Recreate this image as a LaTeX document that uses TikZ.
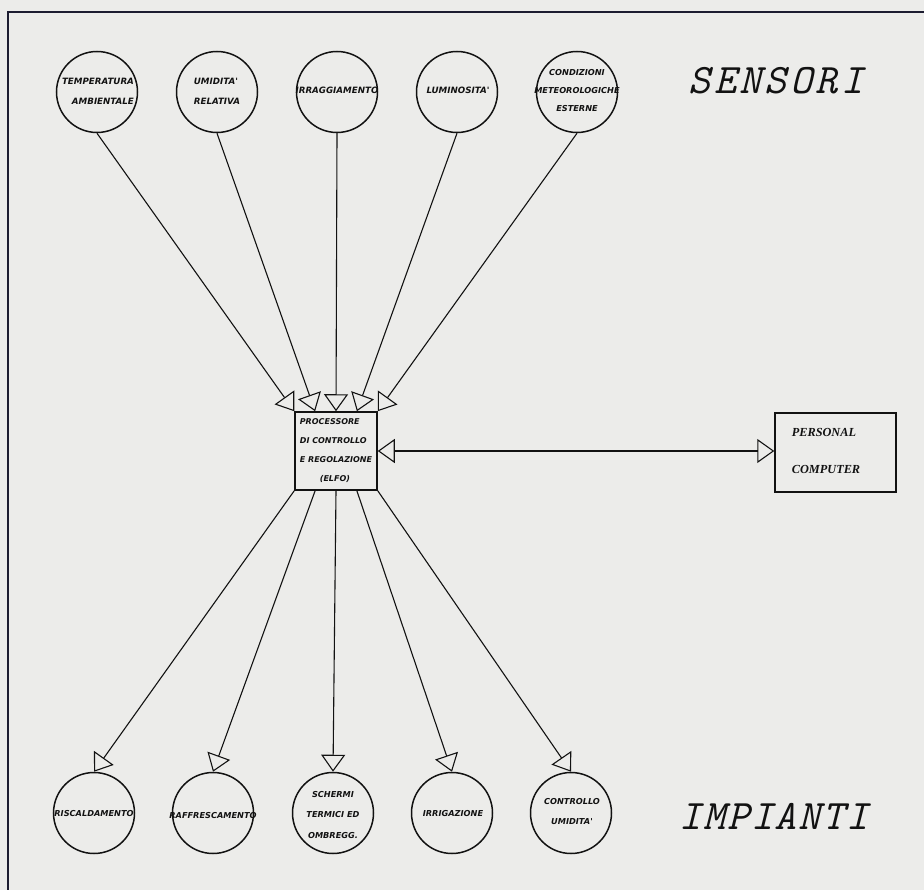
\documentclass[tikz,border=0pt]{standalone}
\usepackage{fontspec}
\usetikzlibrary{arrows.meta,calc}
\newfontfamily\plotfont{DejaVu Sans}
\newfontfamily\pcfont{Liberation Serif}
\definecolor{paper}{RGB}{236,236,234}
\definecolor{framecol}{RGB}{28,28,48}
\definecolor{ink}{RGB}{18,18,18}
\newcommand{\spaced}[2]{\def\spk{\kern#1}\spacedi#2\relax}
\def\spacedi#1{\ifx#1\relax\else#1\expandafter\spacedii\fi}
\def\spacedii#1{\ifx#1\relax\else\spk#1\expandafter\spacedii\fi}
\tikzset{
  circ/.style={circle, draw=ink, line width=1.5pt, minimum size=81pt, inner sep=0pt},
  lbl/.style={text=ink, align=center, inner sep=0pt, font=\plotfont\bfseries\itshape\fontsize{8.7}{20}\selectfont},
  lblsmall/.style={lbl, font=\plotfont\bfseries\itshape\fontsize{8.2}{20}\selectfont},
  conn/.style={draw=ink, line width=1.1pt, -{Triangle[open, length=17pt, width=24pt, line width=1.1pt]}},
  dconn/.style={draw=ink, line width=1.1pt, {Triangle[open, length=17pt, width=24pt, line width=1.1pt]}-{Triangle[open, length=17pt, width=24pt, line width=1.1pt]}},
  title/.style={text=ink, inner sep=0pt, font=\ttfamily\itshape\fontsize{42}{42}\selectfont},
}
\begin{document}
\begin{tikzpicture}[x=1pt,y=-1pt]
\useasboundingbox (0,0) rectangle (924,890);
\fill[paper] (0,0) rectangle (924,890);
\draw[framecol, line width=2.6pt] (8,12) rectangle (960,930);

% sensors
\node[circ] (t1) at (97,92) {};
\node[circ] (t2) at (217,92) {};
\node[circ] (t3) at (337,92) {};
\node[circ] (t4) at (457,92) {};
\node[circ] (t5) at (577,92) {};
\node[lbl, align=right] (lt1) at (98,91) {TEMPERATURA\\AMBIENTALE};
\node[lbl, align=left] (lt2) at (217,91) {UMIDITA'\\RELATIVA};
\node[lbl] (lt3) at (337,90) {IRRAGGIAMENTO};
\node[lbl] (lt4) at (458,90) {LUMINOSITA'};
\node[lbl, font=\plotfont\bfseries\itshape\fontsize{8.2}{18}\selectfont] (lt5) at (577,91) {CONDIZIONI\\METEOROLOGICHE\\ESTERNE};

% processor
\node[draw=ink, line width=1.5pt, minimum width=82pt, minimum height=78pt, inner sep=0pt] (P) at (336,451) {};
\node[lblsmall, align=left, font=\plotfont\bfseries\itshape\fontsize{8}{19}\selectfont] (lP) at (336,451) {PROCESSORE\\DI CONTROLLO\\E REGOLAZIONE\\\hspace*{20pt}(ELFO)};

% personal computer
\node[draw=ink, line width=1.5pt, minimum width=121pt, minimum height=79pt, inner sep=0pt] (PC) at (835.5,452.5) {};
\node[text=ink, inner sep=0pt, align=left, font=\pcfont\bfseries\itshape\fontsize{12.3}{37}\selectfont] (lPC) at (826,451) {PERSONAL\\COMPUTER};

% plants
\node[circ] (b1) at (94,813) {};
\node[circ] (b2) at (213,813) {};
\node[circ] (b3) at (333,813) {};
\node[circ] (b4) at (452,813) {};
\node[circ] (b5) at (571,813) {};
\node[lblsmall] (lb1) at (94,814) {RISCALDAMENTO};
\node[lblsmall] (lb2) at (213,816) {RAFFRESCAMENTO};
\node[lblsmall, font=\plotfont\bfseries\itshape\fontsize{8.2}{20.5}\selectfont] (lb3) at (333,815) {SCHERMI\\TERMICI ED\\OMBREGG.};
\node[lblsmall] (lb4) at (453,814) {IRRIGAZIONE};
\node[lblsmall] (lb5) at (572,812) {CONTROLLO\\UMIDITA'};

% titles
\node[title] (sens) at (776,81) {\spaced{3.4pt}{SENSORI}};
\node[title] (imp) at (774,816) {\spaced{1.8pt}{IMPIANTI}};

% connectors: sensors -> processor
\draw[conn] (t1.south) -- (P.north west);
\draw[conn] (t2.south) -- ($(P.north west)!0.25!(P.north east)$);
\draw[conn] (t3.south) -- (P.north);
\draw[conn] (t4.south) -- ($(P.north west)!0.75!(P.north east)$);
\draw[conn] (t5.south) -- (P.north east);

% processor -> plants
\draw[conn] (P.south west) -- (b1.north);
\draw[conn] ($(P.south west)!0.25!(P.south east)$) -- (b2.north);
\draw[conn] (P.south) -- (b3.north);
\draw[conn] ($(P.south west)!0.75!(P.south east)$) -- (b4.north);
\draw[conn] (P.south east) -- (b5.north);

% processor <-> PC
\draw[dconn] (P.east) -- (PC.west |- P.east);
\end{tikzpicture}
\end{document}
